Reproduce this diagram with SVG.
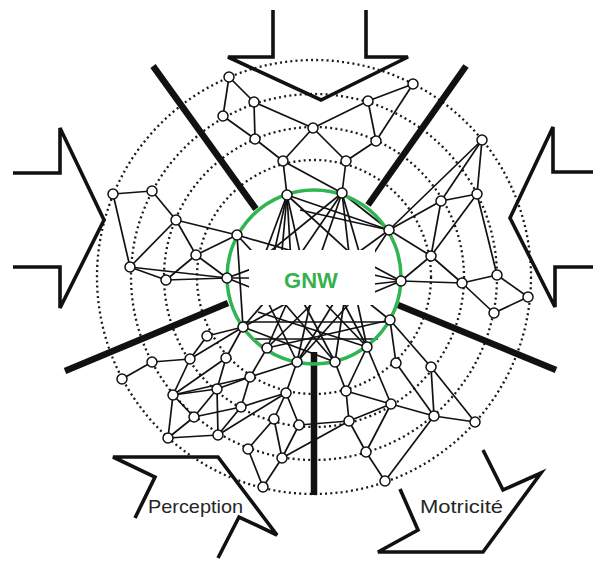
<svg xmlns="http://www.w3.org/2000/svg" width="593" height="561" viewBox="0 0 593 561">
<style>
.dot{fill:none;stroke:#1a1a1a;stroke-width:2.3;stroke-dasharray:2 3.2;stroke-linecap:butt}
.e line{stroke:#111;stroke-width:1.7}
.spoke{stroke:#111;stroke-width:6.5}
.arr{fill:none;stroke:#111;stroke-width:3.6;stroke-linejoin:miter}
.n{fill:#fff;stroke:#111;stroke-width:1.5}
.lbl{font-family:"Liberation Sans",Arial,sans-serif;font-size:19px;fill:#262626}
</style>
<rect width="593" height="561" fill="#fff"/>
<g id="rings">
<circle class="dot" cx="314" cy="277" r="117"/>
<circle class="dot" cx="314" cy="277" r="150"/>
<circle class="dot" cx="314" cy="277" r="183"/>
<circle class="dot" cx="314" cy="277" r="217"/>
</g>
<g id="connectors" class="e">
<line x1="229" y1="77" x2="254" y2="102"/>
<line x1="229" y1="77" x2="223" y2="116"/>
<line x1="254" y1="102" x2="255" y2="139"/>
<line x1="223" y1="116" x2="255" y2="139"/>
<line x1="254" y1="102" x2="313" y2="128"/>
<line x1="255" y1="139" x2="283" y2="161"/>
<line x1="283" y1="161" x2="313" y2="128"/>
<line x1="313" y1="128" x2="346" y2="161"/>
<line x1="313" y1="128" x2="368" y2="101"/>
<line x1="368" y1="101" x2="413" y2="84"/>
<line x1="368" y1="101" x2="376" y2="141"/>
<line x1="413" y1="84" x2="376" y2="141"/>
<line x1="376" y1="141" x2="346" y2="161"/>
<line x1="283" y1="161" x2="287" y2="195"/>
<line x1="283" y1="161" x2="342" y2="193"/>
<line x1="346" y1="161" x2="342" y2="193"/>
<line x1="113" y1="194" x2="152" y2="191"/>
<line x1="113" y1="194" x2="130" y2="267"/>
<line x1="152" y1="191" x2="176" y2="220"/>
<line x1="176" y1="220" x2="130" y2="267"/>
<line x1="176" y1="220" x2="196" y2="255"/>
<line x1="176" y1="220" x2="237" y2="235"/>
<line x1="196" y1="255" x2="237" y2="235"/>
<line x1="196" y1="255" x2="166" y2="280"/>
<line x1="196" y1="255" x2="227" y2="278"/>
<line x1="130" y1="267" x2="166" y2="280"/>
<line x1="130" y1="267" x2="227" y2="278"/>
<line x1="166" y1="280" x2="227" y2="278"/>
<line x1="237" y1="235" x2="243" y2="327"/>
<line x1="482" y1="140" x2="477" y2="194"/>
<line x1="482" y1="140" x2="441" y2="201"/>
<line x1="482" y1="140" x2="389" y2="230"/>
<line x1="441" y1="201" x2="477" y2="194"/>
<line x1="441" y1="201" x2="431" y2="256"/>
<line x1="477" y1="194" x2="431" y2="256"/>
<line x1="477" y1="194" x2="497" y2="275"/>
<line x1="389" y1="230" x2="431" y2="256"/>
<line x1="389" y1="230" x2="441" y2="201"/>
<line x1="431" y1="256" x2="401" y2="281"/>
<line x1="401" y1="281" x2="462" y2="283"/>
<line x1="431" y1="256" x2="462" y2="283"/>
<line x1="462" y1="283" x2="497" y2="275"/>
<line x1="462" y1="283" x2="494" y2="313"/>
<line x1="497" y1="275" x2="528" y2="297"/>
<line x1="528" y1="297" x2="494" y2="313"/>
<line x1="390" y1="320" x2="396" y2="363"/>
<line x1="390" y1="320" x2="431" y2="367"/>
<line x1="367" y1="347" x2="346" y2="391"/>
<line x1="367" y1="347" x2="391" y2="404"/>
<line x1="335" y1="362" x2="346" y2="391"/>
<line x1="396" y1="363" x2="434" y2="416"/>
<line x1="431" y1="367" x2="434" y2="416"/>
<line x1="431" y1="367" x2="475" y2="422"/>
<line x1="346" y1="391" x2="391" y2="404"/>
<line x1="346" y1="391" x2="349" y2="421"/>
<line x1="391" y1="404" x2="434" y2="416"/>
<line x1="391" y1="404" x2="366" y2="452"/>
<line x1="434" y1="416" x2="475" y2="422"/>
<line x1="434" y1="416" x2="385" y2="481"/>
<line x1="349" y1="421" x2="366" y2="452"/>
<line x1="366" y1="452" x2="385" y2="481"/>
<line x1="349" y1="421" x2="299" y2="425"/>
<line x1="349" y1="421" x2="391" y2="404"/>
<line x1="243" y1="327" x2="207" y2="336"/>
<line x1="243" y1="327" x2="190" y2="359"/>
<line x1="243" y1="327" x2="226" y2="358"/>
<line x1="207" y1="336" x2="190" y2="359"/>
<line x1="152" y1="362" x2="190" y2="359"/>
<line x1="152" y1="362" x2="122" y2="379"/>
<line x1="190" y1="359" x2="173" y2="395"/>
<line x1="226" y1="358" x2="173" y2="395"/>
<line x1="226" y1="358" x2="217" y2="389"/>
<line x1="173" y1="395" x2="217" y2="389"/>
<line x1="173" y1="395" x2="194" y2="417"/>
<line x1="173" y1="395" x2="168" y2="438"/>
<line x1="217" y1="389" x2="194" y2="417"/>
<line x1="217" y1="389" x2="218" y2="435"/>
<line x1="250" y1="377" x2="217" y2="389"/>
<line x1="250" y1="377" x2="241" y2="407"/>
<line x1="250" y1="377" x2="267" y2="348"/>
<line x1="250" y1="377" x2="297" y2="362"/>
<line x1="173" y1="395" x2="250" y2="377"/>
<line x1="194" y1="417" x2="168" y2="438"/>
<line x1="194" y1="417" x2="241" y2="407"/>
<line x1="241" y1="407" x2="218" y2="435"/>
<line x1="168" y1="438" x2="218" y2="435"/>
<line x1="218" y1="435" x2="286" y2="393"/>
<line x1="241" y1="407" x2="286" y2="393"/>
<line x1="286" y1="393" x2="297" y2="362"/>
<line x1="286" y1="393" x2="274" y2="419"/>
<line x1="286" y1="393" x2="299" y2="425"/>
<line x1="274" y1="419" x2="248" y2="449"/>
<line x1="274" y1="419" x2="282" y2="458"/>
<line x1="299" y1="425" x2="282" y2="458"/>
<line x1="248" y1="449" x2="263" y2="487"/>
<line x1="282" y1="458" x2="263" y2="487"/>
<line x1="282" y1="458" x2="349" y2="421"/>
<line x1="287" y1="195" x2="262" y2="262"/>
<line x1="287" y1="195" x2="272" y2="262"/>
<line x1="287" y1="195" x2="281" y2="262"/>
<line x1="287" y1="195" x2="291" y2="262"/>
<line x1="287" y1="195" x2="302" y2="262"/>
<line x1="287" y1="195" x2="360" y2="262"/>
<line x1="287" y1="195" x2="389" y2="230"/>
<line x1="342" y1="193" x2="295" y2="262"/>
<line x1="342" y1="193" x2="318" y2="262"/>
<line x1="342" y1="193" x2="350" y2="262"/>
<line x1="342" y1="193" x2="362" y2="262"/>
<line x1="342" y1="193" x2="262" y2="258"/>
<line x1="342" y1="193" x2="389" y2="230"/>
<line x1="237" y1="235" x2="262" y2="262"/>
<line x1="237" y1="235" x2="330" y2="262"/>
<line x1="389" y1="230" x2="345" y2="262"/>
<line x1="389" y1="230" x2="368" y2="262"/>
<line x1="389" y1="230" x2="300" y2="210"/>
<line x1="401" y1="281" x2="365" y2="262"/>
<line x1="401" y1="281" x2="365" y2="273"/>
<line x1="401" y1="281" x2="365" y2="285"/>
<line x1="401" y1="281" x2="365" y2="296"/>
<line x1="227" y1="278" x2="262" y2="265"/>
<line x1="227" y1="278" x2="262" y2="278"/>
<line x1="227" y1="278" x2="262" y2="292"/>
<line x1="243" y1="322" x2="390" y2="322"/>
<line x1="255" y1="339" x2="378" y2="339"/>
<line x1="390" y1="320" x2="360" y2="296"/>
<line x1="243" y1="327" x2="270" y2="296"/>
<line x1="243" y1="327" x2="300" y2="296"/>
<line x1="267" y1="348" x2="290" y2="296"/>
<line x1="267" y1="348" x2="320" y2="296"/>
<line x1="267" y1="348" x2="390" y2="320"/>
<line x1="297" y1="362" x2="265" y2="296"/>
<line x1="297" y1="362" x2="312" y2="296"/>
<line x1="297" y1="362" x2="338" y2="296"/>
<line x1="297" y1="362" x2="356" y2="296"/>
<line x1="335" y1="362" x2="300" y2="296"/>
<line x1="335" y1="362" x2="345" y2="296"/>
<line x1="335" y1="362" x2="278" y2="296"/>
<line x1="335" y1="362" x2="243" y2="327"/>
<line x1="367" y1="347" x2="340" y2="296"/>
<line x1="367" y1="347" x2="318" y2="296"/>
<line x1="367" y1="347" x2="356" y2="296"/>
<line x1="367" y1="347" x2="258" y2="312"/>
</g>
<g id="spokes">
<line class="spoke" x1="153" y1="66" x2="256" y2="209"/>
<line class="spoke" x1="466" y1="66" x2="368" y2="205"/>
<line class="spoke" x1="65" y1="371" x2="228" y2="303"/>
<line class="spoke" x1="398" y1="305" x2="556" y2="370"/>
<line class="spoke" x1="314" y1="352" x2="314" y2="495"/>
</g>
<g id="gnw">
<circle cx="314" cy="277" r="87" fill="none" stroke="#2fb552" stroke-width="3.5"/>
<rect x="249" y="250" width="126" height="55" fill="#fff"/>
<text x="311" y="288" text-anchor="middle" font-family="'Liberation Sans',Arial,sans-serif" font-weight="bold" font-size="22" fill="#36b14e">GNW</text>
</g>
<g id="nodes">
<circle class="n" cx="229" cy="77" r="5"/>
<circle class="n" cx="254" cy="102" r="5"/>
<circle class="n" cx="223" cy="116" r="5"/>
<circle class="n" cx="255" cy="139" r="5"/>
<circle class="n" cx="283" cy="161" r="5"/>
<circle class="n" cx="313" cy="128" r="5"/>
<circle class="n" cx="368" cy="101" r="5"/>
<circle class="n" cx="413" cy="84" r="5"/>
<circle class="n" cx="376" cy="141" r="5"/>
<circle class="n" cx="346" cy="161" r="5"/>
<circle class="n" cx="287" cy="195" r="5"/>
<circle class="n" cx="342" cy="193" r="5"/>
<circle class="n" cx="389" cy="230" r="5"/>
<circle class="n" cx="401" cy="281" r="5"/>
<circle class="n" cx="390" cy="320" r="5"/>
<circle class="n" cx="367" cy="347" r="5"/>
<circle class="n" cx="335" cy="362" r="5"/>
<circle class="n" cx="297" cy="362" r="5"/>
<circle class="n" cx="267" cy="348" r="5"/>
<circle class="n" cx="243" cy="327" r="5"/>
<circle class="n" cx="227" cy="278" r="5"/>
<circle class="n" cx="237" cy="235" r="5"/>
<circle class="n" cx="113" cy="194" r="5"/>
<circle class="n" cx="152" cy="191" r="5"/>
<circle class="n" cx="176" cy="220" r="5"/>
<circle class="n" cx="196" cy="255" r="5"/>
<circle class="n" cx="130" cy="267" r="5"/>
<circle class="n" cx="166" cy="280" r="5"/>
<circle class="n" cx="207" cy="336" r="5"/>
<circle class="n" cx="152" cy="362" r="5"/>
<circle class="n" cx="190" cy="359" r="5"/>
<circle class="n" cx="226" cy="358" r="5"/>
<circle class="n" cx="122" cy="379" r="5"/>
<circle class="n" cx="173" cy="395" r="5"/>
<circle class="n" cx="217" cy="389" r="5"/>
<circle class="n" cx="250" cy="377" r="5"/>
<circle class="n" cx="194" cy="417" r="5"/>
<circle class="n" cx="241" cy="407" r="5"/>
<circle class="n" cx="168" cy="438" r="5"/>
<circle class="n" cx="218" cy="435" r="5"/>
<circle class="n" cx="286" cy="393" r="5"/>
<circle class="n" cx="274" cy="419" r="5"/>
<circle class="n" cx="299" cy="425" r="5"/>
<circle class="n" cx="248" cy="449" r="5"/>
<circle class="n" cx="282" cy="458" r="5"/>
<circle class="n" cx="263" cy="487" r="5"/>
<circle class="n" cx="396" cy="363" r="5"/>
<circle class="n" cx="431" cy="367" r="5"/>
<circle class="n" cx="346" cy="391" r="5"/>
<circle class="n" cx="391" cy="404" r="5"/>
<circle class="n" cx="434" cy="416" r="5"/>
<circle class="n" cx="475" cy="422" r="5"/>
<circle class="n" cx="349" cy="421" r="5"/>
<circle class="n" cx="366" cy="452" r="5"/>
<circle class="n" cx="385" cy="481" r="5"/>
<circle class="n" cx="482" cy="140" r="5"/>
<circle class="n" cx="441" cy="201" r="5"/>
<circle class="n" cx="477" cy="194" r="5"/>
<circle class="n" cx="431" cy="256" r="5"/>
<circle class="n" cx="462" cy="283" r="5"/>
<circle class="n" cx="497" cy="275" r="5"/>
<circle class="n" cx="528" cy="297" r="5"/>
<circle class="n" cx="494" cy="313" r="5"/>
</g>
<g id="arrow-top"><polyline class="arr" points="273,10 273,57 228,57 321,100 408,57 366,57 366,10"/></g>
<g id="arrow-left"><polyline class="arr" points="13,173 60,173 60,128 104,220 60,308 60,267 13,267"/></g>
<g id="arrow-right"><polyline class="arr" points="596,172 553,172 553,127 510,218 555,307 555,267 596,267"/></g>
<g id="perception">
<polyline class="arr" points="135,518 155,477 113,457 218,457 277,535 239,517 218,558"/>
<text class="lbl" x="148" y="513" textLength="95" lengthAdjust="spacingAndGlyphs">Perception</text>
</g>
<g id="motricite">
<polyline class="arr" points="483,450 503,490 541,473 483,552 378,552 418,530 400,489"/>
<text class="lbl" x="420" y="513" textLength="83" lengthAdjust="spacingAndGlyphs">Motricité</text>
</g>
</svg>
